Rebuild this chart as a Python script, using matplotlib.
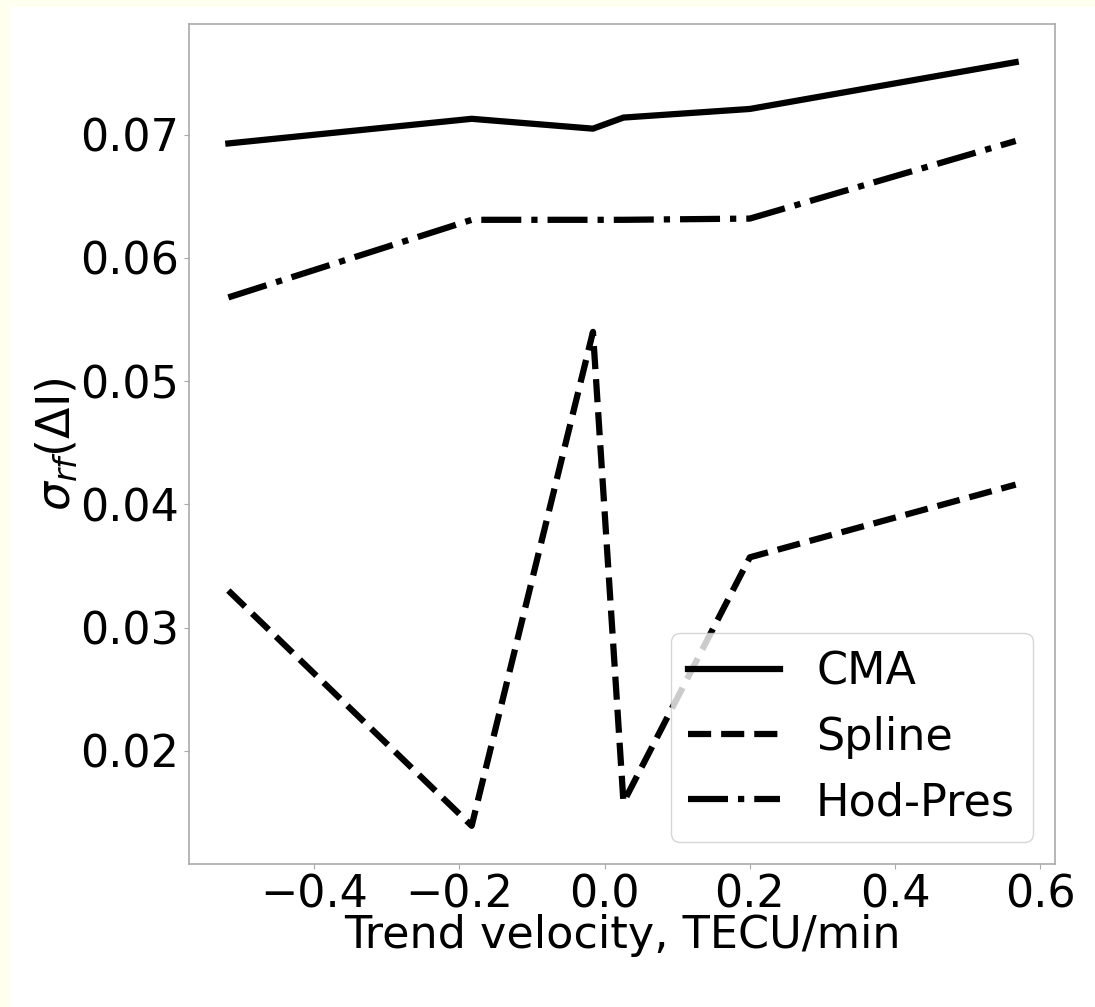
import numpy as np
import matplotlib.pyplot as plt
from matplotlib.patches import Rectangle

# trend velocity (TECU/min)
velocity = [-0.518, -0.183, -0.016, 0.026, 0.200, 0.566]

cma = [0.0693, 0.0713, 0.0705, 0.0714, 0.0721, 0.0759]
spline = [0.0330, 0.0139, 0.0540, 0.0158, 0.0357, 0.0416]
hod_pres = [0.0568, 0.0631, 0.0631, 0.0631, 0.0632, 0.0695]

fig = plt.figure(figsize=(10.95, 10.07), dpi=100, facecolor='#fffff0')
# white page, cream strip visible at top and left
fig.add_artist(Rectangle((10 / 1095, 0), 1, 1 - 7 / 1007,
                         transform=fig.transFigure, facecolor='white',
                         edgecolor='none', zorder=-10))

ax = fig.add_axes([0.1726, 0.1420, 0.7909, 0.8342])
ax.set_zorder(1)

ax.plot(velocity, cma, color='black', lw=4.5, ls='-', label='CMA')
ax.plot(velocity, spline, color='black', lw=4.5, ls='--', label='Spline')
ax.plot(velocity, hod_pres, color='black', lw=4.5, ls='-.', label='Hod-Pres')

ax.set_xticks([-0.4, -0.2, 0.0, 0.2, 0.4, 0.6])
ax.set_yticks([0.02, 0.03, 0.04, 0.05, 0.06, 0.07])
ax.tick_params(labelsize=32, color='#aaaaaa', length=3.5)
for s in ax.spines.values():
    s.set_color('#aaaaaa')
    s.set_linewidth(1.2)

ax.set_xlabel('Trend velocity, TECU/min', fontsize=32, labelpad=-2)
ax.set_ylabel(r'$\sigma_{rf}$($\Delta$I)', fontsize=33, labelpad=0)

ax.legend(loc='lower right', fontsize=32, handlelength=2.07)

plt.savefig('out.png', dpi=100, facecolor=fig.get_facecolor())
